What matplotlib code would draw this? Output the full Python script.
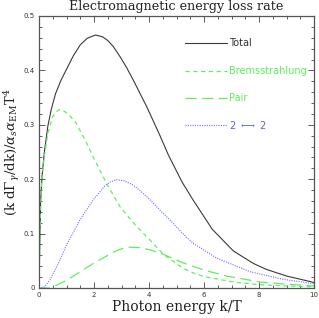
import matplotlib
matplotlib.use("Agg")
import matplotlib.pyplot as plt

plt.rcParams['mathtext.fontset'] = 'dejavuserif'
plt.rcParams['lines.scale_dashes'] = False

# ---- data ----
k_total = [0, 0.03, 0.06, 0.11, 0.19, 0.32, 0.44, 0.6, 0.8, 1.0, 1.25, 1.5, 1.75,
           2.05, 2.3, 2.5, 2.7, 2.95, 3.2, 3.43, 3.92, 4.4, 4.7, 5.2, 5.6, 6.3,
           7.07, 7.8, 8.28, 9.0, 9.85, 10]
total = [0, 0.09, 0.16, 0.205, 0.248, 0.297, 0.327, 0.357, 0.382, 0.402, 0.427,
         0.447, 0.459, 0.465, 0.462, 0.455, 0.444, 0.425, 0.404, 0.382, 0.333,
         0.28, 0.245, 0.195, 0.162, 0.108, 0.068, 0.045, 0.034, 0.022, 0.012,
         0.010]

k_brems = [0, 0.03, 0.06, 0.1, 0.19, 0.32, 0.5, 0.62, 0.75, 0.88, 1.0, 1.15,
           1.35, 1.7, 1.97, 2.46, 2.95, 3.55, 4.04, 4.52, 5.25, 5.6, 6.0, 7.07,
           8.0, 8.9, 10]
brems = [0, 0.08, 0.15, 0.2, 0.24, 0.284, 0.315, 0.324, 0.328, 0.326, 0.322,
         0.315, 0.303, 0.27, 0.241, 0.192, 0.149, 0.113, 0.088, 0.062, 0.036,
         0.028, 0.021, 0.011, 0.006, 0.004, 0.002]

k_pair = [0, 0.4, 0.76, 1.0, 1.5, 1.97, 2.5, 2.75, 3.0, 3.31, 3.7, 4.04, 4.52,
          5.25, 6.0, 6.82, 8.04, 8.9, 10]
pair = [0, 0, 0.008, 0.014, 0.03, 0.045, 0.06, 0.067, 0.072, 0.075, 0.074,
        0.070, 0.062, 0.046, 0.033, 0.022, 0.011, 0.0075, 0.0035]

k_22 = [0, 0.2, 0.4, 0.7, 1.0, 1.49, 1.97, 2.4, 2.6, 2.82, 3.1, 3.4, 3.7, 4.04,
        4.4, 4.76, 5.19, 5.61, 6.46, 7.67, 8.88, 9.85, 10]
v_22 = [0, 0.002, 0.015, 0.045, 0.079, 0.125, 0.162, 0.188, 0.195, 0.199,
        0.197, 0.19, 0.178, 0.162, 0.143, 0.125, 0.102, 0.082, 0.055, 0.030,
        0.016, 0.009, 0.008]

labels = ["Total", "Bremsstrahlung", "Pair", r"2 $\longleftrightarrow$ 2"]
x_ticks = [0, 2, 4, 6, 8, 10]
x_ticklabels = ["0", "2", "4", "6", "8", "10"]
y_ticks = [0, 0.1, 0.2, 0.3, 0.4, 0.5]
y_ticklabels = ["0", "0.1", "0.2", "0.3", "0.4", "0.5"]

# ---- styles ----
c_total = "#3a3a3a"
c_green = "#5cf05c"
c_blue = "#7b7bff"
styles = [
    dict(color=c_total, lw=0.8, linestyle="-"),
    dict(color=c_green, lw=0.9, dashes=(3.0, 2.6)),
    dict(color=c_green, lw=0.9, dashes=(8.0, 4.0)),
    dict(color=c_blue, lw=0.9, dashes=(0.8, 0.9)),
]
text_colors = ["#333333", c_green, c_green, "#5b5bee"]

fig = plt.figure(figsize=(3.19, 3.18), dpi=100)
ax = fig.add_axes([39 / 319, 30 / 318, 275 / 319, 272 / 318])

series = [(k_total, total), (k_brems, brems), (k_pair, pair), (k_22, v_22)]
for (kx, vy), st in zip(series, styles):
    ax.plot(kx, vy, **st)

# legend drawn inside axes
leg_y = [0.450, 0.399, 0.350, 0.300]
for lab, st, tc, yy in zip(labels, styles, text_colors, leg_y):
    ax.plot([5.3, 6.82], [yy, yy], **st)
    ax.text(6.92, yy, lab, color=tc, fontsize=7, va="center", ha="left",
            family="DejaVu Sans")

ax.set_xlim(0, 10)
ax.set_ylim(0, 0.5)
ax.set_xticks(x_ticks)
ax.set_xticklabels(x_ticklabels)
ax.set_yticks(y_ticks)
ax.set_yticklabels(y_ticklabels)
ax.set_xticks([i * 0.5 for i in range(21)], minor=True)
ax.set_yticks([i * 0.02 for i in range(26)], minor=True)
ax.tick_params(which="both", direction="in", top=True, right=True,
               color="#444444", width=0.6, labelsize=5, labelcolor="#333333")
ax.tick_params(which="major", length=4.5, pad=3)
ax.tick_params(which="minor", length=2.2)
for sp in ax.spines.values():
    sp.set_color("#555555")
    sp.set_linewidth(0.9)

ax.set_title("Electromagnetic energy loss rate", family="DejaVu Serif",
             fontsize=9.2, pad=4, color="#222222")
ax.set_xlabel("Photon energy k/T", family="DejaVu Serif", fontsize=10,
              labelpad=1, color="#222222")
ax.set_ylabel(r"$(\mathrm{k\ d}\Gamma_\gamma/\mathrm{dk})/\alpha_s\alpha_{\mathrm{EM}}\mathrm{T}^4$",
              fontsize=9.5, labelpad=1, color="#222222")

fig.savefig("out.png", dpi=100)
